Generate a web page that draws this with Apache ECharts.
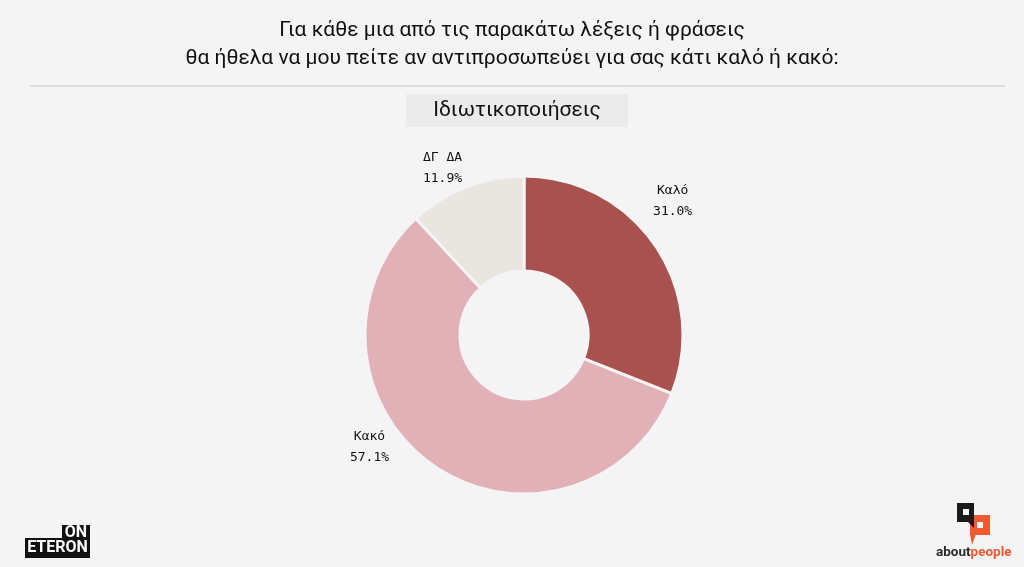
<!DOCTYPE html>
<html>
<head>
<meta charset="utf-8">
<script src="https://cdn.jsdelivr.net/npm/echarts@6/dist/echarts.min.js"></script>
<style>
html,body{margin:0;padding:0;background:#f4f4f4;}
#c{width:1024px;height:567px;}
</style>
</head>
<body>
<div id="c"></div>
<script>
const titleLines = ["Για κάθε μια από τις παρακάτω λέξεις ή φράσεις", "θα ήθελα να μου πείτε αν αντιπροσωπεύει για σας κάτι καλό ή κακό:"];
const subtitle = "Ιδιωτικοποιήσεις";
const categories = ["Καλό", "Κακό", "ΔΓ ΔΑ"];
const values = [31.0, 57.1, 11.9];
const colors = ["#a9514f", "#e2b1b8", "#e9e5df"];

// label placement (style): angle clockwise from top (deg) and distance from centre (px)
const PIE_CENTER = [524, 335];
const labelAngle = [48, 234, 334];
const labelDist = [200, 191, 186];

const chart = echarts.init(document.getElementById('c'));
chart.setOption({
  backgroundColor: '#f4f4f4',
  animation: false,
  title: [{
    text: titleLines.join('\n'),
    left: 'center', top: 12,
    textStyle: {fontFamily: 'Roboto', fontSize: 21, fontWeight: 'normal', color: '#111', lineHeight: 28}
  }],
  graphic: [
    {type: 'line', shape: {x1: 30, y1: 86, x2: 1005, y2: 86}, style: {stroke: '#dcdcdc', lineWidth: 2}},
    {type: 'rect', shape: {x: 406, y: 94, width: 222, height: 33}, style: {fill: '#ebebeb'}},
    {type: 'text', x: 517, y: 111, style: {text: subtitle, font: '21px Roboto', fill: '#111', align: 'center', verticalAlign: 'middle'}},
    // ON ETERON logo
    {type: 'rect', shape: {x: 62, y: 525, width: 28, height: 14}, style: {fill: '#111'}},
    {type: 'rect', shape: {x: 25, y: 538, width: 65, height: 20}, style: {fill: '#111'}},
    {type: 'text', x: 76, y: 533, style: {text: 'ON', font: 'bold 16px Roboto', fill: '#fff', align: 'center', verticalAlign: 'middle'}},
    {type: 'text', x: 57.5, y: 548, style: {text: 'ETERON', font: 'bold 16px Roboto', fill: '#fff', align: 'center', verticalAlign: 'middle'}},
    // aboutpeople logo
    {type: 'rect', shape: {x: 970, y: 515, width: 20, height: 20}, style: {fill: '#f05a30'}},
    {type: 'polygon', shape: {points: [[970, 534], [976, 534], [972, 545]]}, style: {fill: '#f05a30'}},
    {type: 'rect', shape: {x: 977, y: 522, width: 6, height: 6}, style: {fill: '#f4f4f4'}},
    {type: 'rect', shape: {x: 957, y: 503, width: 17, height: 19}, style: {fill: '#1a1a1a'}},
    {type: 'polygon', shape: {points: [[967, 521], [974, 521], [974, 528]]}, style: {fill: '#1a1a1a'}},
    {type: 'rect', shape: {x: 963, y: 509, width: 6, height: 6}, style: {fill: '#f4f4f4'}},
    {type: 'text', x: 936, y: 553, style: {text: '{a|about}{p|people}', rich: {a: {font: 'bold 13.5px Roboto', fill: '#2a2a2a'}, p: {font: 'bold 13.5px Roboto', fill: '#f05a30'}}, verticalAlign: 'middle'}}
  ],
  series: [{
    type: 'pie',
    center: PIE_CENTER,
    radius: [64, 159],
    startAngle: 90,
    clockwise: true,
    data: categories.map((n, i) => ({name: n, value: values[i], itemStyle: {color: colors[i]}})),
    itemStyle: {borderColor: '#f4f4f4', borderWidth: 3},
    label: {
      show: true, position: 'outside',
      formatter: p => p.name + '\n' + p.value.toFixed(1) + '%',
      fontFamily: 'DejaVu Sans Mono', fontSize: 13, color: '#111', lineHeight: 21, align: 'center'
    },
    labelLine: {show: false, length: 18, length2: 6},
    labelLayout: function (p) {
      const i = p.dataIndex;
      const a = labelAngle[i] * Math.PI / 180;
      return {
        x: PIE_CENTER[0] + labelDist[i] * Math.sin(a),
        y: PIE_CENTER[1] - labelDist[i] * Math.cos(a),
        align: 'center', verticalAlign: 'middle'
      };
    },
    emphasis: {disabled: true}
  }]
});
</script>
</body>
</html>
